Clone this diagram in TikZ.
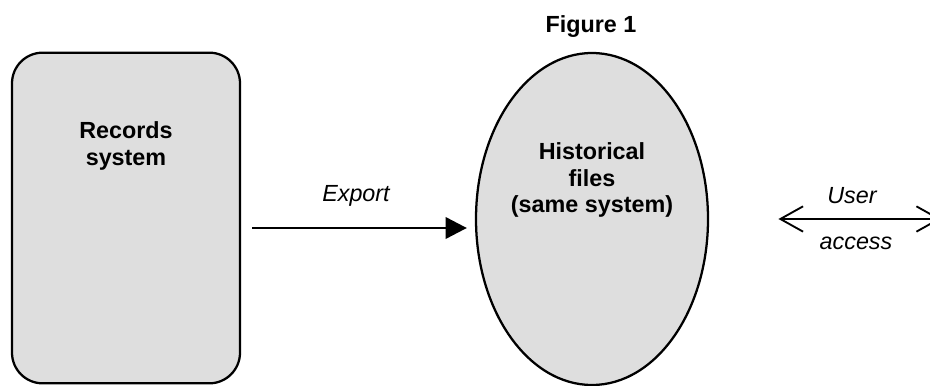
\documentclass[tikz,border=0pt]{standalone}
\usepackage{fontspec}
\setmainfont{Liberation Sans}
\usetikzlibrary{arrows.meta,shapes.geometric}

\begin{document}
\begin{tikzpicture}[x=0.75pt, y=-0.75pt,
    every node/.style={font=\fontsize{17.5}{20}\selectfont, inner sep=0pt},
    shapefill/.style={draw, line width=1.7pt, fill=black!13},
    sysbox/.style={shapefill, rounded corners=23pt, minimum width=171pt, minimum height=248pt},
    filesbox/.style={shapefill, ellipse, minimum width=174pt, minimum height=249pt},
    boldtext/.style={font=\fontsize{17.5}{20}\selectfont\bfseries, align=center},
    lbl/.style={font=\fontsize{17.5}{20}\selectfont\itshape},
    flow/.style={line width=2.2pt, -{Triangle[length=16pt,width=16pt]}},
    access/.style={line width=1.4pt, {Straight Barb[length=17pt,width=19pt]}-{Straight Barb[length=17pt,width=19pt]}}]
    \useasboundingbox (0,0) rectangle (930,385);
    % Titel
    \node[boldtext] (title) at (591,27) {Figure 1};
    % Quellsystem
    \node[sysbox] (records) at (126,218) {};
    \node[boldtext] (recordslbl) at (126,146) {Records\\system};
    % Historische Dateien
    \node[filesbox] (hist) at (592,219) {};
    \node[boldtext] (histlbl) at (592,180) {Historical\\files\\(same system)};
    % Export
    \coordinate (exportstart) at (252,228);
    \draw[flow, shorten >=6pt] (exportstart) -- (exportstart -| hist.west);
    \node[lbl] (exportlbl) at (356,196) {Export};
    % Benutzerzugriff
    \coordinate (accessend) at (941,219);
    \draw[access, shorten <=52pt] (hist.east) -- (accessend);
    \node[lbl] (userlbl) at (852,196) {User};
    \node[lbl] (accesslbl) at (856,243) {access};
\end{tikzpicture}
\end{document}
